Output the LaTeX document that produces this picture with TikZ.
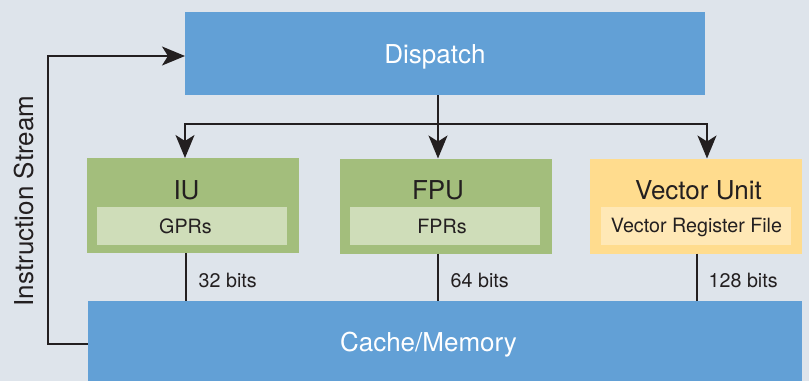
\documentclass[tikz,border=0pt]{standalone}
\usepackage{fontspec}
\setmainfont{TeX Gyre Heros}
\usetikzlibrary{arrows.meta}

\definecolor{bgcol}{HTML}{DEE4EB}
\definecolor{inkcol}{HTML}{231F20}
\definecolor{memblue}{HTML}{62A0D6}
\definecolor{unitgreen}{HTML}{A3BE7C}
\definecolor{regsgreen}{HTML}{CFDDB9}
\definecolor{unityellow}{HTML}{FFDC8E}
\definecolor{regsyellow}{HTML}{FFE8B6}

\begin{document}
\begin{tikzpicture}[x=1pt, y=-1pt, draw=inkcol, line width=1.7pt, every node/.style={text=inkcol}]
    \tikzstyle{box}=[rectangle, inner sep=0pt, outer sep=0pt, draw=none]
    \tikzstyle{memory box}=[box, fill=memblue]
    \tikzstyle{unit box}=[box, minimum width=212pt, minimum height=95pt]
    \tikzstyle{regs box}=[box, minimum width=190pt, minimum height=38pt]
    \tikzstyle{big text}=[inner sep=0pt, text depth=0pt, font=\fontsize{26}{31}\selectfont]
    \tikzstyle{small text}=[inner sep=0pt, text depth=0pt, font=\fontsize{19.7}{24}\selectfont]
    \tikzstyle{bits}=[small text, anchor=west, xshift=12pt, pos=.56]
    \tikzstyle{flow}=[-{Stealth[length=23pt, width=19pt, inset=6pt]}]
    \tikzstyle{bus}=[line width=1.4pt]

    % Background
    \fill[bgcol] (0,0) rectangle (809,381);
    \useasboundingbox (0,0) rectangle (809,381);

    % Dispatch and memory
    \node[memory box, minimum width=520pt, minimum height=83pt] (dispatch) at (445,53.5) {};
    \node[memory box, minimum width=714pt, minimum height=80pt] (cache) at (445,341) {};
    \node[big text, text=white] (dispatch-text) at (435,54) {Dispatch};
    \node[big text, text=white] (cache-text) at (428.5,342) {Cache/Memory};

    % Execution units
    \node[unit box, fill=unitgreen] (iu) at (193,205.5) {};
    \node[unit box, fill=unitgreen] (fpu) at (446,206) {};
    \node[unit box, fill=unityellow] (vector) at (696,206) {};

    % Register files
    \node[regs box, fill=regsgreen] (gprs) at (192,226) {};
    \node[regs box, fill=regsgreen] (fprs) at (445,226) {};
    \node[regs box, fill=regsyellow] (vrf) at (696,226) {};

    % Unit names
    \node[big text] (iu-text) at (186.5,190) {IU};
    \node[big text] (fpu-text) at (438,190) {FPU};
    \node[big text] (vector-text) at (698.5,190.5) {Vector Unit};
    \node[small text] (gprs-text) at (185.5,226) {GPRs};
    \node[small text] (fprs-text) at (442,226) {FPRs};
    \node[small text] (vrf-text) at (696.5,225.5) {Vector Register File};

    % Dispatch to units
    \coordinate (fork) at (438,124);
    \draw (dispatch.south -| fork) -- (fork);
    \draw[flow] (fork) -| ([xshift=-8pt]iu.north);
    \draw[flow] (fork) -- (fork |- fpu.north);
    \draw[flow] (fork) -| ([xshift=11pt]vector.north);

    % Units to memory
    \draw[bus] ([xshift=-7pt]iu.south) -- node[bits] {32 bits} ([xshift=-7pt]iu.south |- cache.north);
    \draw[bus] ([xshift=-8pt]fpu.south) -- node[bits] {64 bits} ([xshift=-8pt]fpu.south |- cache.north);
    \draw[bus] ([xshift=1pt]vector.south) -- node[bits, xshift=-1pt] {128 bits} ([xshift=1pt]vector.south |- cache.north);

    % Instruction stream
    \coordinate (loop) at (48,56);
    \draw[flow] ([yshift=-3pt]cache.west) -| (loop) -- ([yshift=-2.5pt]dispatch.west);
    \node[big text, rotate=90] (stream) at (24,201) {Instruction Stream};

\end{tikzpicture}
\end{document}
